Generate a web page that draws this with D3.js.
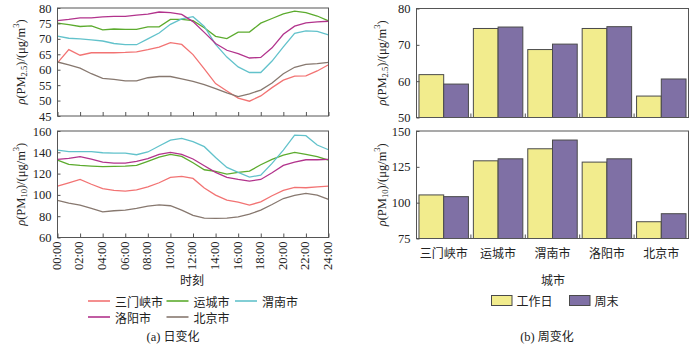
<!DOCTYPE html>
<html>
<head>
<meta charset="utf-8">
<script src="https://cdn.jsdelivr.net/npm/d3@7"></script>
<style>
  body { margin: 0; background: #fff; }
  svg text { fill: #222; }
  .num { font-family: "Liberation Serif", "DejaVu Serif", serif; font-size: 12.5px; }
  .cjk { font-family: "Noto Sans CJK SC", sans-serif; font-size: 12px; }
</style>
</head>
<body>
<div id="chart"></div>
<script>
const width = 700;
const height = 345;

// hourly means, 00:00 .. 24:00
const hours = d3.range(0, 25);
const cities = ["三门峡市", "运城市", "渭南市", "洛阳市", "北京市"];
const cityColors = ["#f27373", "#5cab2e", "#62c2cb", "#b2338c", "#87786f"];

const pm25Sanmenxia = [62.2, 66.5, 64.7, 65.5, 65.5, 65.5, 65.6, 65.8, 66.5, 67.3, 68.8, 68.2, 64.9, 60.3, 55.5, 53.1, 50.8, 49.8, 51.5, 54.2, 56.6, 57.9, 58.0, 59.6, 61.6];
const pm25Yuncheng = [75.1, 74.6, 74.0, 74.2, 72.9, 73.2, 73.1, 73.1, 73.9, 73.9, 76.3, 76.3, 75.9, 73.6, 70.8, 70.1, 72.2, 72.2, 75.1, 76.6, 78.1, 79.0, 78.5, 77.4, 75.8];
const pm25Weinan = [70.9, 70.2, 70.0, 69.7, 69.3, 68.5, 68.1, 68.1, 70.0, 71.9, 74.7, 76.5, 77.2, 74.0, 68.2, 64.1, 60.9, 59.1, 59.1, 62.8, 67.4, 71.8, 72.6, 72.4, 71.3];
const pm25Luoyang = [75.9, 76.3, 76.8, 76.8, 77.1, 77.3, 77.3, 77.7, 78.0, 78.7, 78.5, 77.9, 75.6, 72.1, 68.5, 66.3, 65.2, 63.8, 64.0, 67.1, 71.5, 74.1, 75.2, 75.5, 75.7];
const pm25Beijing = [62.5, 61.6, 60.5, 58.7, 57.2, 56.9, 56.4, 56.4, 57.4, 57.8, 57.8, 57.0, 56.2, 55.2, 53.9, 52.5, 51.3, 52.2, 53.4, 55.7, 58.7, 60.8, 61.7, 62.0, 62.4];

const pm10Sanmenxia = [108.3, 111.4, 114.5, 110.0, 105.8, 104.2, 103.6, 104.8, 107.6, 111.4, 116.4, 117.4, 115.5, 106.4, 99.8, 95.1, 93.2, 90.4, 93.5, 99.2, 104.2, 107.0, 106.7, 107.6, 108.3];
const pm10Yuncheng = [132.7, 128.7, 127.7, 127.1, 126.5, 126.8, 127.1, 127.7, 131.5, 135.5, 138.1, 136.2, 130.2, 123.6, 122.1, 119.6, 121.1, 122.4, 128.3, 133.4, 137.4, 139.9, 138.1, 135.9, 132.7];
const pm10Weinan = [142.1, 140.6, 140.6, 140.6, 139.6, 139.3, 139.3, 137.7, 140.3, 145.9, 151.5, 153.1, 150.0, 145.3, 135.2, 125.8, 121.1, 116.7, 118.6, 129.6, 142.1, 156.2, 155.6, 146.8, 142.4];
const pm10Luoyang = [133.4, 134.3, 135.9, 133.7, 130.8, 129.9, 129.9, 131.5, 134.0, 138.1, 139.9, 138.1, 133.7, 127.4, 121.1, 116.4, 114.5, 113.0, 114.5, 120.8, 127.7, 130.8, 133.0, 133.0, 133.4];
const pm10Beijing = [94.8, 92.3, 90.4, 87.3, 84.1, 85.1, 85.7, 87.3, 89.5, 90.7, 89.8, 85.7, 80.7, 78.2, 77.9, 78.2, 79.4, 81.9, 85.7, 91.0, 96.6, 99.5, 101.4, 99.8, 95.7];

// weekday / weekend means per city
const weekKinds = ["工作日", "周末"];
const weekColors = ["#f2ec8d", "#7f70a5"];
const pm25Weekday = [61.8, 74.5, 68.7, 74.5, 55.9];
const pm25Weekend = [59.2, 74.9, 70.2, 75.0, 60.6];
const pm10Weekday = [105.4, 129.2, 137.6, 128.3, 86.7];
const pm10Weekend = [104.2, 130.6, 143.7, 130.6, 92.3];

const hourTicks = d3.range(0, 25, 2);
const pm25DayTicks = d3.range(45, 81, 5);
const pm10DayTicks = d3.range(60, 161, 20);
const pm25WeekTicks = [50, 60, 70, 80];
const pm10WeekTicks = [75, 100, 125, 150];

const svg = d3.select("#chart").append("svg")
  .attr("width", width)
  .attr("height", height);

const frameColor = "#555";

// rotated y label: ρ(PM sub)/(μg/m³)
function yLabel(cx, cy, sub) {
  const t = svg.append("text")
    .attr("class", "num")
    .attr("transform", `translate(${cx},${cy}) rotate(-90)`)
    .attr("text-anchor", "middle")
    .attr("dominant-baseline", "middle");
  t.append("tspan").attr("font-style", "italic").text("ρ");
  t.append("tspan").text("(PM");
  t.append("tspan").attr("font-size", "8.5px").attr("dy", 3).text(sub);
  t.append("tspan").attr("dy", -3).text(")/(μg/m");
  t.append("tspan").attr("font-size", "8.5px").attr("dy", -5).text("3");
  t.append("tspan").attr("dy", 5).text(")");
}

function frame(x0, x1, y0, y1) {
  svg.append("rect")
    .attr("x", x0).attr("y", y0)
    .attr("width", x1 - x0).attr("height", y1 - y0)
    .attr("fill", "none")
    .attr("stroke", frameColor)
    .attr("stroke-width", 1);
}

function yAxis(x0, y, ticks) {
  const g = svg.append("g")
    .attr("class", "num")
    .attr("transform", `translate(${x0},0)`)
    .call(d3.axisLeft(y).tickValues(ticks).tickSizeInner(-3).tickSizeOuter(0).tickPadding(6));
  g.select(".domain").remove();
  g.selectAll("line").attr("stroke", frameColor);
  g.selectAll("text").attr("font-family", null).attr("font-size", null).attr("fill", "#222");
  return g;
}

// ---- (a) daily variation ----
const lx0 = 57.5, lx1 = 328.5;
const x = d3.scaleLinear().domain([0, 24]).range([lx0, lx1]);

function dayPanel(y0, y1, domain, ticks, series, sub, showHours) {
  const y = d3.scaleLinear().domain(domain).range([y1, y0]);
  const line = d3.line().x((d, i) => x(hours[i])).y(d => y(d));
  series.forEach((s, i) => {
    svg.append("path")
      .datum(s)
      .attr("d", line)
      .attr("fill", "none")
      .attr("stroke", cityColors[i])
      .attr("stroke-width", 1.3);
  });
  frame(lx0, lx1, y0, y1);
  yAxis(lx0, y, ticks);
  const gx = svg.append("g")
    .attr("class", "num")
    .attr("transform", `translate(0,${y1})`)
    .call(d3.axisBottom(x).tickValues(hourTicks).tickSizeInner(-4).tickSizeOuter(0)
      .tickFormat(d => String(d).padStart(2, "0") + ":00"));
  gx.select(".domain").remove();
  gx.selectAll("line").attr("stroke", frameColor);
  gx.selectAll("text")
    .attr("font-family", null).attr("font-size", null).attr("fill", "#222")
    .attr("opacity", showHours ? 1 : 0)
    .attr("text-anchor", "end")
    .attr("dy", null)
    .attr("dominant-baseline", "middle")
    .attr("transform", "translate(0,4) rotate(-90)")
    .attr("y", 0).attr("x", 0);
  yLabel(22, (y0 + y1) / 2, sub);
}

dayPanel(8, 116, [45, 80], pm25DayTicks,
  [pm25Sanmenxia, pm25Yuncheng, pm25Weinan, pm25Luoyang, pm25Beijing], "2.5", false);
dayPanel(131, 237.5, [60, 160], pm10DayTicks,
  [pm10Sanmenxia, pm10Yuncheng, pm10Weinan, pm10Luoyang, pm10Beijing], "10", true);

svg.append("text").attr("class", "cjk")
  .attr("x", 192).attr("y", 285).attr("text-anchor", "middle").text("时刻");

// line legend, three per row
const legendPos = [[88, 301], [166.5, 301], [235, 301], [88, 317], [166.5, 317]];
cities.forEach((c, i) => {
  const [lx, ly] = legendPos[i];
  svg.append("line")
    .attr("x1", lx).attr("x2", lx + 22)
    .attr("y1", ly).attr("y2", ly)
    .attr("stroke", cityColors[i]).attr("stroke-width", 1.6);
  svg.append("text").attr("class", "cjk")
    .attr("x", lx + 27).attr("y", ly).attr("dominant-baseline", "central")
    .text(c);
});

const capA = svg.append("text").attr("class", "num")
  .attr("x", 173).attr("y", 341).attr("text-anchor", "middle");
capA.append("tspan").text("(a) ");
capA.append("tspan").attr("font-family", "Noto Sans CJK SC").attr("font-size", "12px").text("日变化");

// ---- (b) weekly variation ----
const rx0 = 416.5, rx1 = 688.5;
const xBand = d3.scaleBand().domain(cities).range([rx0, rx1]).paddingInner(0).paddingOuter(0);
const xSub = d3.scaleBand().domain(weekKinds).range([0, xBand.bandwidth()]).paddingOuter(0.1).paddingInner(0);

function weekPanel(y0, y1, domain, ticks, weekday, weekend, sub, showCities) {
  const y = d3.scaleLinear().domain(domain).range([y1, y0]);
  const rows = cities.map((c, i) => ({ city: c, vals: [weekday[i], weekend[i]] }));
  const groups = svg.append("g").selectAll("g")
    .data(rows).join("g")
    .attr("transform", d => `translate(${xBand(d.city)},0)`);
  groups.selectAll("rect")
    .data(d => d.vals.map((v, k) => ({ kind: weekKinds[k], v, k })))
    .join("rect")
    .attr("x", d => xSub(d.kind))
    .attr("width", xSub.bandwidth())
    .attr("y", d => y(d.v))
    .attr("height", d => y1 - y(d.v))
    .attr("fill", d => weekColors[d.k])
    .attr("stroke", "#4a4a4a")
    .attr("stroke-width", 1);
  frame(rx0, rx1, y0, y1);
  yAxis(rx0, y, ticks);
  // small inner ticks on band boundaries
  svg.append("g").selectAll("line")
    .data(cities.slice(1)).join("line")
    .attr("x1", d => xBand(d)).attr("x2", d => xBand(d))
    .attr("y1", y1).attr("y2", y1 - 4)
    .attr("stroke", frameColor);
  if (showCities) {
    svg.append("g").selectAll("text")
      .data(cities).join("text")
      .attr("class", "cjk")
      .attr("x", d => xBand(d) + xBand.bandwidth() / 2)
      .attr("y", y1 + 14)
      .attr("text-anchor", "middle")
      .attr("dominant-baseline", "central")
      .text(d => d);
  }
  yLabel(383, (y0 + y1) / 2, sub);
}

weekPanel(8.5, 117.5, [50, 80], pm25WeekTicks, pm25Weekday, pm25Weekend, "2.5", false);
weekPanel(131, 238.5, [75, 150], pm10WeekTicks, pm10Weekday, pm10Weekend, "10", true);

svg.append("text").attr("class", "cjk")
  .attr("x", 553).attr("y", 285).attr("text-anchor", "middle").text("城市");

const boxPos = [491.5, 569.5];
weekKinds.forEach((k, i) => {
  svg.append("rect")
    .attr("x", boxPos[i]).attr("y", 295.5)
    .attr("width", 20.5).attr("height", 10)
    .attr("fill", weekColors[i])
    .attr("stroke", "#4a4a4a");
  svg.append("text").attr("class", "cjk")
    .attr("x", boxPos[i] + 25).attr("y", 300.5)
    .attr("dominant-baseline", "central")
    .text(k);
});

const capB = svg.append("text").attr("class", "num")
  .attr("x", 547).attr("y", 341).attr("text-anchor", "middle");
capB.append("tspan").text("(b) ");
capB.append("tspan").attr("font-family", "Noto Sans CJK SC").attr("font-size", "12px").text("周变化");
</script>
</body>
</html>
